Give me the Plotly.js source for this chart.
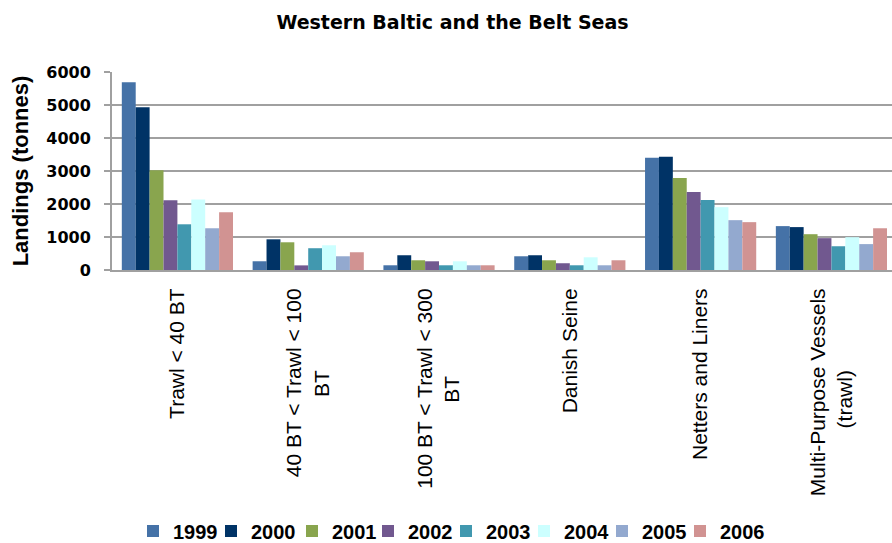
<!DOCTYPE html>
<html>
<head>
<meta charset="utf-8">
<script src="https://cdn.plot.ly/plotly-3.0.1.min.js"></script>
<style>
  html, body { margin: 0; padding: 0; background: #ffffff; }
  #chart { width: 892px; height: 543px; }
</style>
</head>
<body>
<div id="chart"></div>
<script>
// Categories (fleet segments)
const categories = [
  "Trawl < 40 BT",
  "40 BT < Trawl < 100 BT",
  "100 BT < Trawl < 300 BT",
  "Danish Seine",
  "Netters and Liners",
  "Multi-Purpose Vessels (trawl)"
];

// Tick labels as drawn under the axis
const NB = "\u00A0";
const tickLabels = [
  "Trawl < 40 BT",
  "40 BT < Trawl < 100<br>BT" + NB.repeat(14),
  "100 BT < Trawl < 300<br>BT" + NB.repeat(15),
  "Danish Seine",
  "Netters and Liners",
  "Multi-Purpose Vessels<br>(trawl)" + NB.repeat(14)
];

// Landings (tonnes) per year
const years = ["1999", "2000", "2001", "2002", "2003", "2004", "2005", "2006"];
const v1999 = [5690, 265, 143, 416, 3400, 1330];
const v2000 = [4930, 930, 447, 447, 3430, 1300];
const v2001 = [3020, 840, 295, 295, 2790, 1085];
const v2002 = [2110, 140, 264, 205, 2360, 965];
const v2003 = [1385, 660, 143, 143, 2120, 720];
const v2004 = [2140, 750, 264, 385, 1905, 995];
const v2005 = [1265, 416, 143, 143, 1510, 785];
const v2006 = [1750, 538, 143, 295, 1450, 1265];
const seriesValues = [v1999, v2000, v2001, v2002, v2003, v2004, v2005, v2006];

const colors = ["#4572A7", "#003366", "#89A54E", "#71588F", "#4198AF", "#CCFFFF", "#93A9CF", "#D19392"];

// one legend per series so each entry sits where the reference puts it
const legendIds = years.map((_, i) => (i === 0 ? "legend" : "legend" + (i + 1)));
const legendLeft = [133, 211, 292, 368, 446, 524, 602, 680];

const traces = years.map((yr, i) => ({
  type: "bar",
  name: yr,
  x: categories,
  y: seriesValues[i],
  legend: legendIds[i],
  marker: { color: colors[i], line: { width: 0 } },
  hoverinfo: "x+y+name"
}));

const gridGrey = "#A0A0A0";

const layout = {
  width: 892,
  height: 543,
  paper_bgcolor: "#ffffff",
  plot_bgcolor: "#ffffff",
  margin: { l: 112, r: 0, t: 72, b: 273, pad: 0 },
  barmode: "group",
  bargap: 0.15,
  bargroupgap: 0,
  title: {
    text: "Western Baltic and the Belt Seas",
    font: { family: "DejaVu Sans, Arial, sans-serif", size: 19, color: "#000000", weight: "bold" },
    x: 452.5 / 892,
    xanchor: "center",
    xref: "container",
    y: 1 - 22 / 543,
    yanchor: "middle",
    yref: "container"
  },
  xaxis: {
    type: "category",
    tickmode: "array",
    tickvals: categories,
    ticktext: tickLabels,
    tickangle: -90,
    range: [-0.5, 5.463],
    showgrid: false,
    showline: true,
    linecolor: gridGrey,
    linewidth: 2,
    ticks: "",
    ticklabelstandoff: 8,
    tickfont: { family: "Liberation Sans, Arial, sans-serif", size: 21, color: "#000000" },
    automargin: false,
    fixedrange: true
  },
  yaxis: {
    range: [0, 6000],
    dtick: 1000,
    tick0: 0,
    tickformat: "d",
    showgrid: true,
    gridcolor: gridGrey,
    gridwidth: 2,
    zeroline: false,
    showline: true,
    linecolor: gridGrey,
    linewidth: 2,
    ticks: "outside",
    ticklen: 6,
    tickwidth: 2,
    tickcolor: gridGrey,
    ticklabelstandoff: 10,
    tickfont: { family: "DejaVu Sans, Arial, sans-serif", size: 16, color: "#000000", weight: "bold" },
    title: {
      text: "Landings (tonnes)",
      font: { family: "Liberation Sans, Arial, sans-serif", size: 22, color: "#000000", weight: "bold" },
      standoff: 12
    },
    automargin: false,
    fixedrange: true
  },
  showlegend: true
};

legendIds.forEach((id, i) => {
  layout[id] = {
    orientation: "h",
    x: legendLeft[i] / 892,
    xanchor: "left",
    xref: "container",
    y: 1 - 531 / 543,
    yanchor: "middle",
    yref: "container",
    bgcolor: "rgba(0,0,0,0)",
    font: { family: "Liberation Sans, Arial, sans-serif", size: 20, color: "#000000", weight: "bold" },
    itemclick: false,
    itemdoubleclick: false
  };
});

Plotly.newPlot("chart", traces, layout, { displayModeBar: false, staticPlot: true });
</script>
</body>
</html>
